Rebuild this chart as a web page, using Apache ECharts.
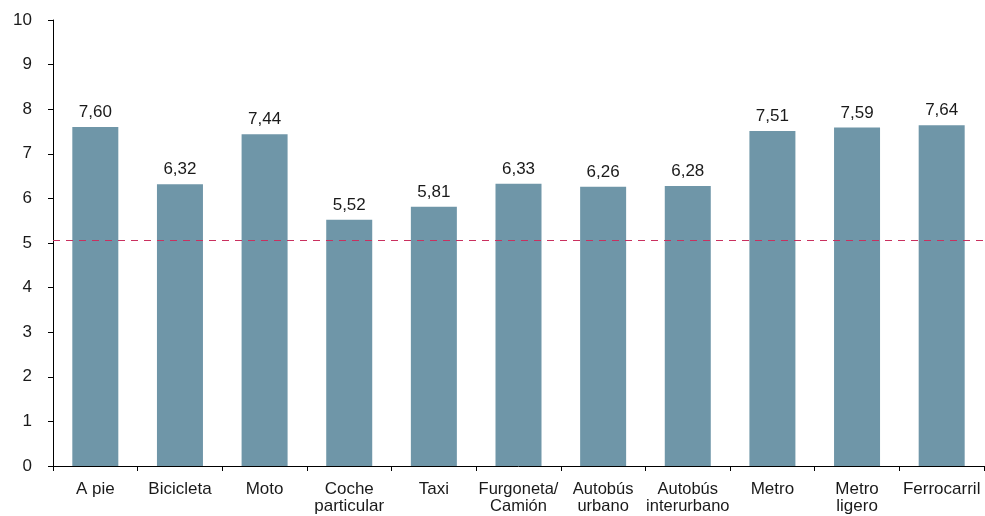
<!DOCTYPE html>
<html>
<head>
<meta charset="utf-8">
<script src="https://cdn.jsdelivr.net/npm/echarts@6/dist/echarts.min.js"></script>
<style>
html,body{margin:0;padding:0;background:#fff;}
#chart{width:985px;height:516px;}
</style>
</head>
<body>
<div id="chart"></div>
<script>
// Medios de transporte y valoración media
const categories = ['A pie', 'Bicicleta', 'Moto', 'Coche\nparticular', 'Taxi', 'Furgoneta/\nCamión', 'Autobús\nurbano', 'Autobús\ninterurbano', 'Metro', 'Metro\nligero', 'Ferrocarril'];
const values = [7.60, 6.32, 7.44, 5.52, 5.81, 6.33, 6.26, 6.28, 7.51, 7.59, 7.64];
const referenceLevel = [5.07];
const narrowLabels = ['Furgoneta/\nCamión', 'Autobús\nurbano', 'Autobús\ninterurbano'];

const fmt = v => v.toFixed(2).replace('.', ',');
const font = '"Liberation Sans", Arial, sans-serif';
const narrowFont = '"Liberation Sans Narrow", "Arial Narrow", "Liberation Sans", sans-serif';

const chart = echarts.init(document.getElementById('chart'));
chart.setOption({
  animation: false,
  grid: { left: 53, right: 1, top: 20, bottom: 50 },
  xAxis: {
    type: 'category',
    data: categories,
    axisLine: { lineStyle: { color: '#000', width: 1 } },
    axisTick: { show: true, length: 5, lineStyle: { color: '#000' }, alignWithLabel: false },
    axisLabel: {
      interval: 0,
      margin: 15,
      color: '#1a1a1a',
      fontFamily: font,
      fontSize: 17,
      lineHeight: 17,
      formatter: v => narrowLabels.includes(v)
        ? v.split('\n').map(s => '{n|' + s + '}').join('\n')
        : v,
      rich: { n: { fontSize: 16.5, lineHeight: 17, fontFamily: narrowFont, color: '#1a1a1a' } }
    }
  },
  yAxis: {
    type: 'value',
    min: 0, max: 10, interval: 1,
    splitLine: { show: false },
    axisLine: { show: true, lineStyle: { color: '#000', width: 1 } },
    axisTick: { show: true, length: 5, inside: false, lineStyle: { color: '#000' } },
    axisLabel: { color: '#1a1a1a', fontFamily: font, fontSize: 17, margin: 21 }
  },
  series: [{
    type: 'bar',
    data: values,
    barWidth: 46,
    itemStyle: { color: '#6f96a8' },
    label: {
      show: true, position: 'top', distance: 6,
      color: '#1a1a1a', fontFamily: font, fontSize: 17,
      formatter: p => fmt(p.value)
    },
    markLine: {
      silent: true,
      symbol: 'none',
      label: { show: false },
      lineStyle: { color: '#c9305f', type: [7, 6], width: 1.2 },
      data: referenceLevel.map(y => ({ yAxis: y }))
    }
  }]
});
</script>
</body>
</html>
